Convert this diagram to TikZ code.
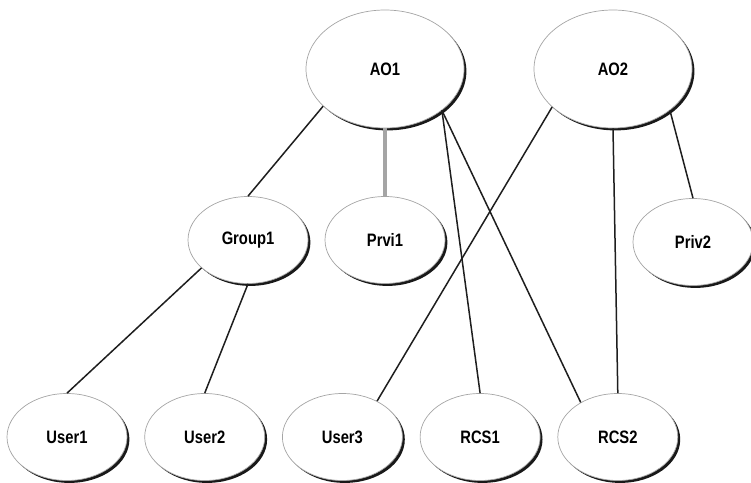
\documentclass[tikz,border=0pt]{standalone}
\usepackage{fontspec}
\newfontfamily\labelfont[FakeStretch=0.82]{Liberation Sans}
\usepackage{tikz}
\usetikzlibrary{shapes.geometric, shadows, positioning}
\definecolor{edgeline}{RGB}{30, 30, 30}
\definecolor{rimline}{RGB}{165, 165, 165}
\definecolor{privline}{RGB}{165, 165, 165}
\tikzset{
  objnode/.style={
    ellipse, draw=rimline, fill=white, line width=0.7pt, inner sep=0pt,
    minimum width=120pt, minimum height=87pt,
    font=\labelfont\bfseries\fontsize{18}{18}\selectfont,
    drop shadow={shadow xshift=2.4pt, shadow yshift=-2.4pt, fill=black, opacity=0.9}
  },
  bigobjnode/.style={objnode, minimum width=158pt, minimum height=118pt},
  linkline/.style={draw=edgeline, line width=1.5pt},
  privlink/.style={draw=privline, line width=3.2pt}
}
\begin{document}
\begin{tikzpicture}[x=1pt, y=1pt, node distance=17pt]
  \useasboundingbox (0,0) rectangle (751,-482);

  \node[bigobjnode] (ao1) at (385,-69) {AO1};
  \node[bigobjnode] (ao2) at (613,-69) {AO2};

  \node[objnode] (group1) at (248,-240) {Group1};
  \node[objnode] (prvi1) at (385,-240) {Prvi1};
  \node[objnode] (priv2) at (693,-242) {Priv2};

  \node[objnode] (user1) at (67,-437) {User1};
  \node[objnode, right=of user1] (user2) {User2};
  \node[objnode, right=of user2] (user3) {User3};
  \node[objnode, right=of user3] (rcs1) {RCS1};
  \node[objnode, right=of rcs1] (rcs2) {RCS2};

  \draw[linkline] (ao1.211) -- (group1.north);
  \draw[privlink] (ao1.south) -- (prvi1.north);
  \draw[linkline] (ao1.-36) -- (rcs1.north);
  \draw[linkline] (ao1.-36) -- (rcs2.137);
  \draw[linkline] (ao2.212) -- (user3.46);
  \draw[linkline] (ao2.south) -- (rcs2.north);
  \draw[linkline] (ao2.-36) -- (priv2.north);
  \draw[linkline] (group1.211) -- (user1.north);
  \draw[linkline] (group1.south) -- (user2.north);
\end{tikzpicture}
\end{document}
